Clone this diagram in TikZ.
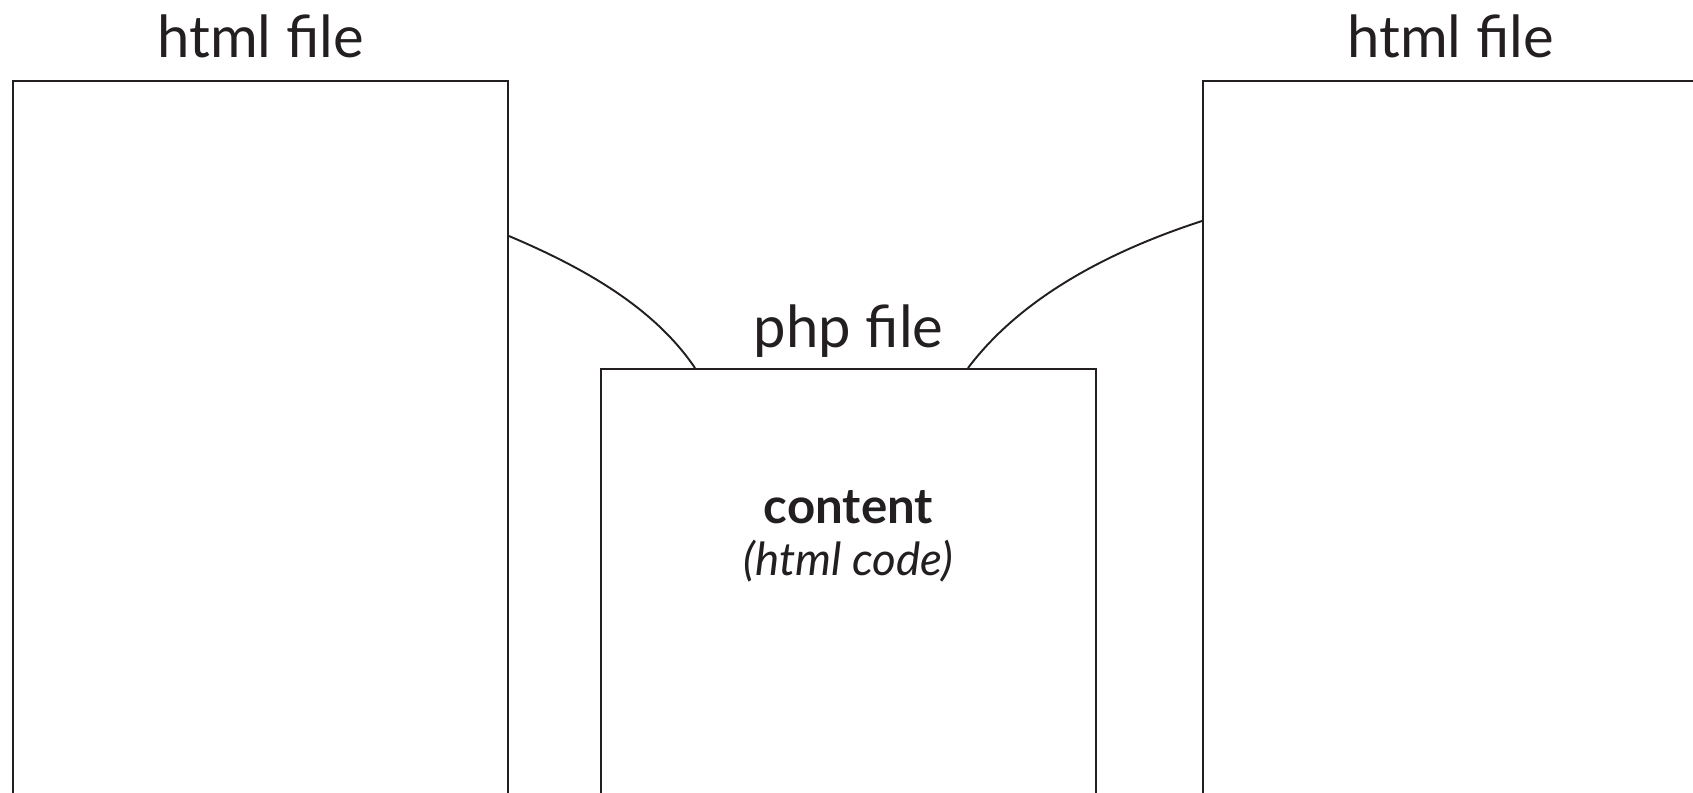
\documentclass[tikz,border=0pt]{standalone}
\usepackage{fontspec}
\setmainfont{Lato}
\usepackage{tikz}
\usetikzlibrary{calc,positioning}

\definecolor{ink}{HTML}{231F20}

\begin{document}
\begin{tikzpicture}[
    filebox/.style={rectangle, draw=ink, line width=1.1pt, minimum width=9.9cm,
    minimum height=16cm, anchor=north west, inner sep=0pt},
    title/.style={text=ink, font=\fontsize{33}{40}\selectfont, inner sep=0pt, anchor=base},
    link/.style={draw=ink, line width=1.1pt, looseness=0.85}]
    \clip (0,0) rectangle (33.86,-15.84);

    \node (htmlleft) [filebox] at (0.24,-1.6) {};
    \node (php) [filebox] at (12,-7.36) {};
    \node (htmlright) [filebox] at (24.04,-1.6) {};

    \node (htmllefttitle) [title, above=0.46cm of htmlleft, anchor=base] {html file};
    \node (phptitle) [title, above=0.42cm of php, anchor=base] {php file};
    \node (htmlrighttitle) [title, above=0.46cm of htmlright, anchor=base] {html file};

    \node (content) [text=ink, inner sep=0pt, anchor=base, font=\fontsize{28}{34}\selectfont\bfseries]
        at ($(php.north)+(0,-3.1)$) {content};
    \node (code) [text=ink, inner sep=0pt, anchor=base, font=\fontsize{26}{31}\selectfont\itshape]
        at ($(php.north)+(0,-4.14)$) {(html code)};

    \draw [link] ([yshift=-3.12cm]htmlleft.north east) to[out=-23, in=124] ([xshift=1.9cm]php.north west);
    \draw [link] ([xshift=7.36cm]php.north west) to[out=53, in=-162] ([yshift=-2.82cm]htmlright.north west);
\end{tikzpicture}
\end{document}
